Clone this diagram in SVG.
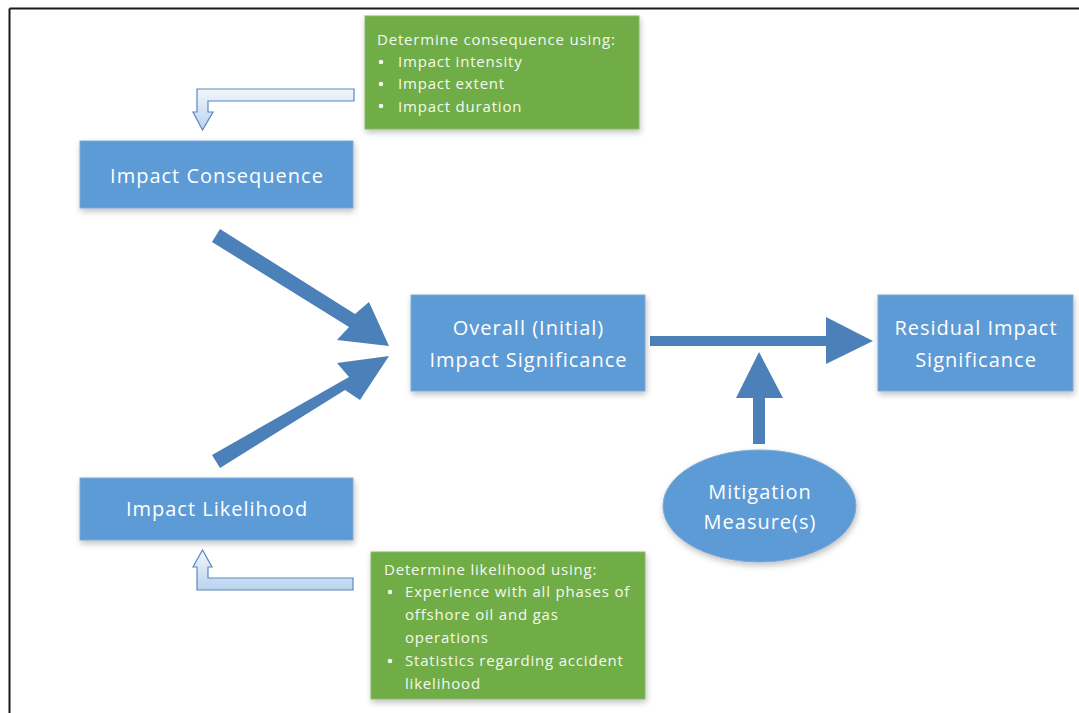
<svg xmlns="http://www.w3.org/2000/svg" width="1079" height="713" viewBox="0 0 1079 713">
  <defs>
    <filter id="sh" x="-20%" y="-20%" width="140%" height="150%">
      <feGaussianBlur in="SourceAlpha" stdDeviation="3"/>
      <feOffset dx="1" dy="3" result="b"/>
      <feComponentTransfer><feFuncA type="linear" slope="0.25"/></feComponentTransfer>
      <feMerge><feMergeNode/><feMergeNode in="SourceGraphic"/></feMerge>
    </filter>
    <linearGradient id="lb" x1="0" y1="0" x2="0" y2="1">
      <stop offset="0" stop-color="#f2f7fc"/>
      <stop offset="1" stop-color="#b9d3ee"/>
    </linearGradient>
  </defs>
  <style>
    .box { fill: #5b9bd5; stroke: #7fa9d6; stroke-width: 1; }
    .note { fill: #70ad47; stroke: #8ab86a; stroke-width: 1; }
    .t { font-family: "Open Sans", "Noto Sans", "Liberation Sans", sans-serif; fill: #ffffff; text-anchor: middle; font-size: 20px; letter-spacing: 1px; }
    .n { font-family: "Open Sans", "Noto Sans", "Liberation Sans", sans-serif; fill: #f4f9ef; font-size: 15px; letter-spacing: 0.8px; }
    .arr { fill: #4c80b8; }
    .bent { stroke: #5a87bd; stroke-width: 1.2; }
  </style>
  <rect x="0" y="0" width="1079" height="713" fill="#ffffff"/>
  <g id="frame" fill="none" stroke="#1a1a1a" stroke-width="2">
    <line x1="9.5" y1="8.5" x2="1079" y2="8.5"/>
    <line x1="9.5" y1="8.5" x2="9.5" y2="713"/>
  </g>

  <g id="connectors">
    <polygon id="c-cons-overall" class="arr" points="212,242 220,229 355,314 369,302 389,346 337,340 349,327"/>
    <polygon id="c-like-overall" class="arr" points="212,455 220,468 345,390 360,400 389,356 337,363 349,377"/>
    <polygon id="c-overall-resid" class="arr" points="650,336 826,336 826,317 873,341 826,364 826,346 650,346"/>
    <polygon id="c-mit" class="arr" points="753,444 753,398 736,398 759,352 783,398 765,398 765,444"/>
    <path id="c-note1" class="bent" fill="url(#lb)" d="M354,89 L197,89 L197,112 L193,112 L202.5,130 L213,112 L208,112 L208,101 L354,101 Z"/>
    <path id="c-note2" class="bent" fill="url(#lb)" d="M353,590 L197,590 L197,567 L193,567 L202.5,550 L212,567 L208,567 L208,578 L353,578 Z"/>
  </g>

  <g id="note-consequence">
    <rect class="note" x="365" y="16" width="274" height="113" filter="url(#sh)"/>
    <text class="n" x="377" y="45">Determine consequence using:</text>
    <circle cx="381" cy="62" r="2.3" fill="#f4f9ef"/>
    <text class="n" x="398" y="67">Impact intensity</text>
    <circle cx="381" cy="84" r="2.3" fill="#f4f9ef"/>
    <text class="n" x="398" y="89">Impact extent</text>
    <circle cx="381" cy="106" r="2.3" fill="#f4f9ef"/>
    <text class="n" x="398" y="112">Impact duration</text>
  </g>

  <g id="node-consequence">
    <rect class="box" x="80" y="141" width="273" height="67" filter="url(#sh)"/>
    <text class="t" x="217" y="183">Impact Consequence</text>
  </g>

  <g id="node-overall">
    <rect class="box" x="411" y="295" width="234" height="96" filter="url(#sh)"/>
    <text class="t" x="528.5" y="335">Overall (Initial)</text>
    <text class="t" x="528.5" y="367">Impact Significance</text>
  </g>

  <g id="node-residual">
    <rect class="box" x="878" y="295" width="195" height="96" filter="url(#sh)"/>
    <text class="t" x="976" y="335">Residual Impact</text>
    <text class="t" x="976" y="367">Significance</text>
  </g>

  <g id="node-mitigation">
    <ellipse class="box" cx="759.5" cy="506" rx="96.5" ry="56" filter="url(#sh)"/>
    <text class="t" x="760" y="499">Mitigation</text>
    <text class="t" x="760" y="529">Measure(s)</text>
  </g>

  <g id="node-likelihood">
    <rect class="box" x="80" y="478" width="273" height="62" filter="url(#sh)"/>
    <text class="t" x="217" y="516">Impact Likelihood</text>
  </g>

  <g id="note-likelihood">
    <rect class="note" x="371" y="552" width="274" height="147" filter="url(#sh)"/>
    <text class="n" x="384" y="575">Determine likelihood using:</text>
    <circle cx="390" cy="592" r="2.3" fill="#f4f9ef"/>
    <text class="n" x="405" y="597">Experience with all phases of</text>
    <text class="n" x="405" y="620">offshore oil and gas</text>
    <text class="n" x="405" y="643">operations</text>
    <circle cx="390" cy="661" r="2.3" fill="#f4f9ef"/>
    <text class="n" x="405" y="666">Statistics regarding accident</text>
    <text class="n" x="405" y="689">likelihood</text>
  </g>
</svg>
